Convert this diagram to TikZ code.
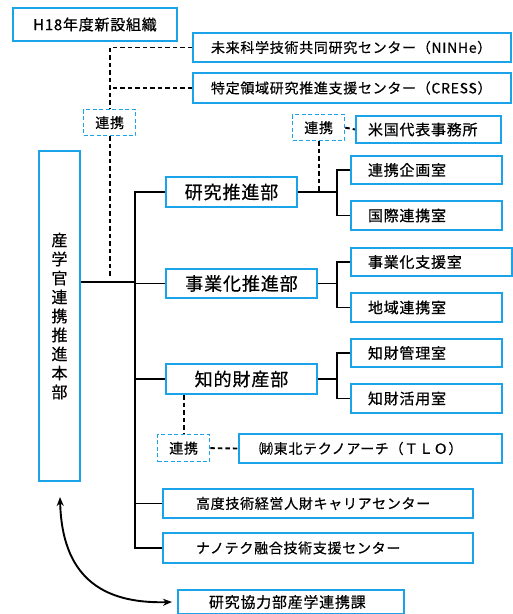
\documentclass[tikz,border=0pt]{standalone}
\usepackage{fontspec}
\setmainfont{Noto Sans CJK JP}[LetterSpace=5, FakeBold=0.6]
\usetikzlibrary{arrows.meta}
\definecolor{bl}{HTML}{1AA3E8}
\begin{document}
\begin{tikzpicture}[x=1pt,y=-1pt,
  box/.style={draw=bl, line width=2pt, fill=white, inner ysep=0pt, anchor=north west, align=left},
  dbox/.style={draw=bl, line width=1.3pt, dash pattern=on 4pt off 2.5pt, fill=white, inner sep=0pt, anchor=north west, minimum width=52pt, font=\fontsize{14}{16}\selectfont},
  ln/.style={line width=1.9pt, black},
  dl/.style={line width=1.9pt, black, dash pattern=on 4.5pt off 3pt},
  big/.style={font=\fontsize{18}{20}\selectfont},
  mid/.style={font=\fontsize{15}{17}\selectfont},
  sml/.style={font=\fontsize{14}{16}\selectfont}]
\useasboundingbox (0,0) rectangle (513,614);

\node[box, mid, align=center, minimum width=164pt, minimum height=33pt, text width=150pt, inner xsep=7pt] (h18) at (12,7) {H18年度新設組織};
\node[box, font=\fontsize{14}{16}\selectfont, minimum height=29pt, text width=282pt, inner xsep=18pt] (ninhe) at (192,32) {未来科学技術共同研究センター（NINHe）};
\node[box, font=\fontsize{14}{16}\selectfont, minimum height=30pt, text width=282pt, inner xsep=18pt] (cress) at (192,72) {特定領域研究推進支援センター（CRESS）};

\node[dbox, minimum height=26pt] (rk1) at (83,109) {連携};

\node[box, minimum width=41pt, minimum height=330pt, inner xsep=0pt, align=center, font=\fontsize{16}{19}\selectfont] (honbu) at (38,150) {産\\学\\官\\連\\携\\推\\進\\本\\部};

\node[box, big, align=center, minimum height=30pt, text width=119pt, inner xsep=6pt] (kenkyu) at (165,176) {研究推進部};
\node[box, big, align=center, minimum height=29pt, text width=139pt, inner xsep=6pt] (jigyo) at (165,268) {事業化推進部};
\node[box, big, align=center, minimum height=30pt, text width=139pt, inner xsep=6pt] (chiteki) at (165,363) {知的財産部};

\node[dbox, minimum height=26pt] (rk2) at (292,114) {連携};
\node[box, mid, minimum height=27pt, text width=121pt, inner xsep=12pt] (beikoku) at (355,115) {米国代表事務所};
\node[box, mid, minimum height=28pt, text width=117pt, inner xsep=17pt] (kikaku) at (350,155) {連携企画室};
\node[box, mid, minimum height=29pt, text width=117pt, inner xsep=17pt] (kokusai) at (350,200) {国際連携室};
\node[box, mid, minimum height=28pt, text width=127pt, inner xsep=17pt] (shien) at (350,247) {事業化支援室};
\node[box, mid, minimum height=29pt, text width=117pt, inner xsep=17pt] (chiiki) at (350,292) {地域連携室};
\node[box, mid, minimum height=28pt, text width=117pt, inner xsep=17pt] (kanri) at (350,338) {知財管理室};
\node[box, mid, minimum height=29pt, text width=117pt, inner xsep=17pt] (katsuyo) at (350,383) {知財活用室};

\node[dbox, minimum height=27pt] (rk3) at (157,434) {連携};
\node[box, sml, minimum height=29pt, text width=223pt, inner xsep=20pt] (tlo) at (238,433) {㈶東北テクノアーチ（ＴＬＯ）};
\node[box, sml, minimum height=29pt, text width=244pt, inner xsep=33pt] (kodo) at (162,488) {高度技術経営人財キャリアセンター};
\node[box, sml, minimum height=30pt, text width=244pt, inner xsep=33pt] (nano) at (162,532) {ナノテク融合技術支援センター};
\node[box, mid, minimum height=24pt, text width=164pt, inner xsep=31pt] (kyoryoku) at (177,589) {研究協力部産学連携課};

\coordinate (m0) at (135,282);
\coordinate (b1) at (337,192);
\coordinate (b2) at (337,282);
\coordinate (b3) at (337,377);
\coordinate (d0) at (110,278);
\coordinate (a0) at (60,497);

% dashed connectors
\draw[dl] (ninhe.west) -| (rk1.north);
\draw[dl] (cress.west) -- (cress.west -| rk1.north);
\draw[dl] (rk1.south) -- (rk1.south |- d0);
\draw[dl] (rk2.south) -- (rk2.south |- kenkyu.east);
\draw[dl] (rk2.east) -- (beikoku.west);
\draw[dl] (rk3.north |- chiteki.south) -- (rk3.north);
\draw[dl] (rk3.east) -- (tlo.west);

% solid tree
\draw[ln] (honbu.east |- m0) -- (m0);
\draw[ln] (kenkyu.west) -| (nano.west -| m0) -- (nano.west);
\draw[ln] (jigyo.west) -- (jigyo.west -| m0);
\draw[ln] (chiteki.west) -- (chiteki.west -| m0);
\draw[ln] (kodo.west) -- (kodo.west -| m0);

\draw[ln] (kenkyu.east) -- (kenkyu.east -| b1);
\draw[ln] (kikaku.west) -| (b1) |- (kokusai.west);
\draw[ln] (jigyo.east) -- (jigyo.east -| b2);
\draw[ln] (shien.west) -| (b2) |- (chiiki.west);
\draw[ln] (chiteki.east) -- (chiteki.east -| b3);
\draw[ln] (kanri.west) -| (b3) |- (katsuyo.west);

% curved double arrow
\draw[ln, {Stealth[length=9pt,width=7pt]}-{Stealth[length=9pt,width=7pt]}] (a0) .. controls (62,575) and (100,604) .. ([xshift=-5pt]kyoryoku.west);
\end{tikzpicture}
\end{document}
